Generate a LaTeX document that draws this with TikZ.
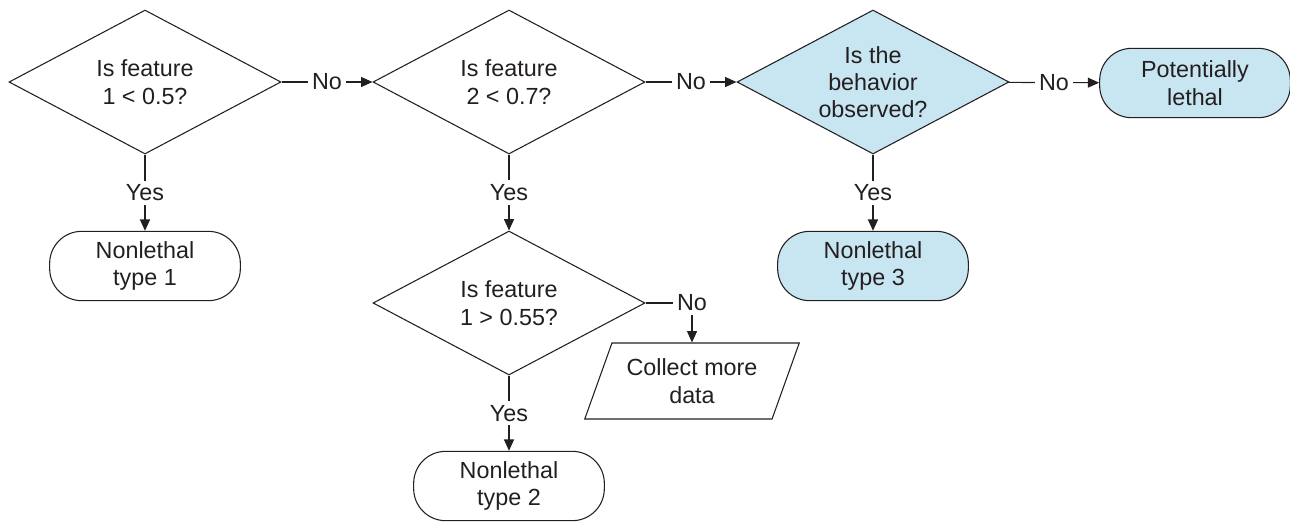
\documentclass[tikz,border=0pt]{standalone}
\usepackage{fontspec}
\setmainfont{Liberation Sans}
\usetikzlibrary{shapes.geometric}
\usetikzlibrary{arrows.meta}

\begin{document}
\begin{tikzpicture}
            [x=0.75pt, y=-0.75pt,
            every node/.style={font=\fontsize{17.5}{20.5}\selectfont, text=ink, align=center},
            decision/.style={draw=ink, line width=0.8pt, diamond, aspect=1.89, minimum width=204pt, minimum height=108pt, inner sep=0pt},
            terminal/.style={draw=ink, line width=0.8pt, rectangle, rounded corners=24pt, minimum width=143pt, minimum height=52pt},
            datain/.style={draw=ink, line width=0.8pt, trapezium, trapezium left angle=66, trapezium right angle=114, trapezium stretches=true, minimum width=161pt, minimum height=57pt},
            link/.style={draw=ink, line width=0.8pt, -{Triangle[length=8.5pt, width=7.5pt]}},
            answer/.style={fill=white, inner sep=3pt},
            ]
            \definecolor{ink}{HTML}{231F20}
            \definecolor{sky}{HTML}{C8E6F1}
            \useasboundingbox (0,0) rectangle (1290,522);

            % questions
            \node[decision] (q1) at (145,82) {Is feature\\1 < 0.5?};
            \node[decision] (q2) at (509,82) {Is feature\\2 < 0.7?};
            \node[decision, fill=sky] (q3) at (873,82) {Is the\\behavior\\observed?};
            \node[decision] (q4) at (509,303) {Is feature\\1 > 0.55?};

            % outcomes
            \node[terminal] (type1) at (145,266) {Nonlethal\\type 1};
            \node[terminal] (type2) at (509,486) {Nonlethal\\type 2};
            \node[terminal, fill=sky] (type3) at (873,266) {Nonlethal\\type 3};
            \node[terminal, fill=sky] (lethal) at (1195,83) {Potentially\\lethal};
            \node[datain] (collect) at (692,381) {Collect more\\data};

            % no
            \draw[link] (q1) -- node[answer] {No} (q2);
            \draw[link] (q2) -- node[answer] {No} (q3);
            \draw[link] (q3) -- node[answer] {No} (lethal);
            \draw[link] (q4.east) -| node[answer, pos=0.5] {No} (collect.north);

            % yes
            \draw[link] (q1) -- node[answer] {Yes} (type1);
            \draw[link] (q2) -- node[answer] {Yes} (q4);
            \draw[link] (q3) -- node[answer] {Yes} (type3);
            \draw[link] (q4) -- node[answer] {Yes} (type2);
        \end{tikzpicture}
\end{document}
